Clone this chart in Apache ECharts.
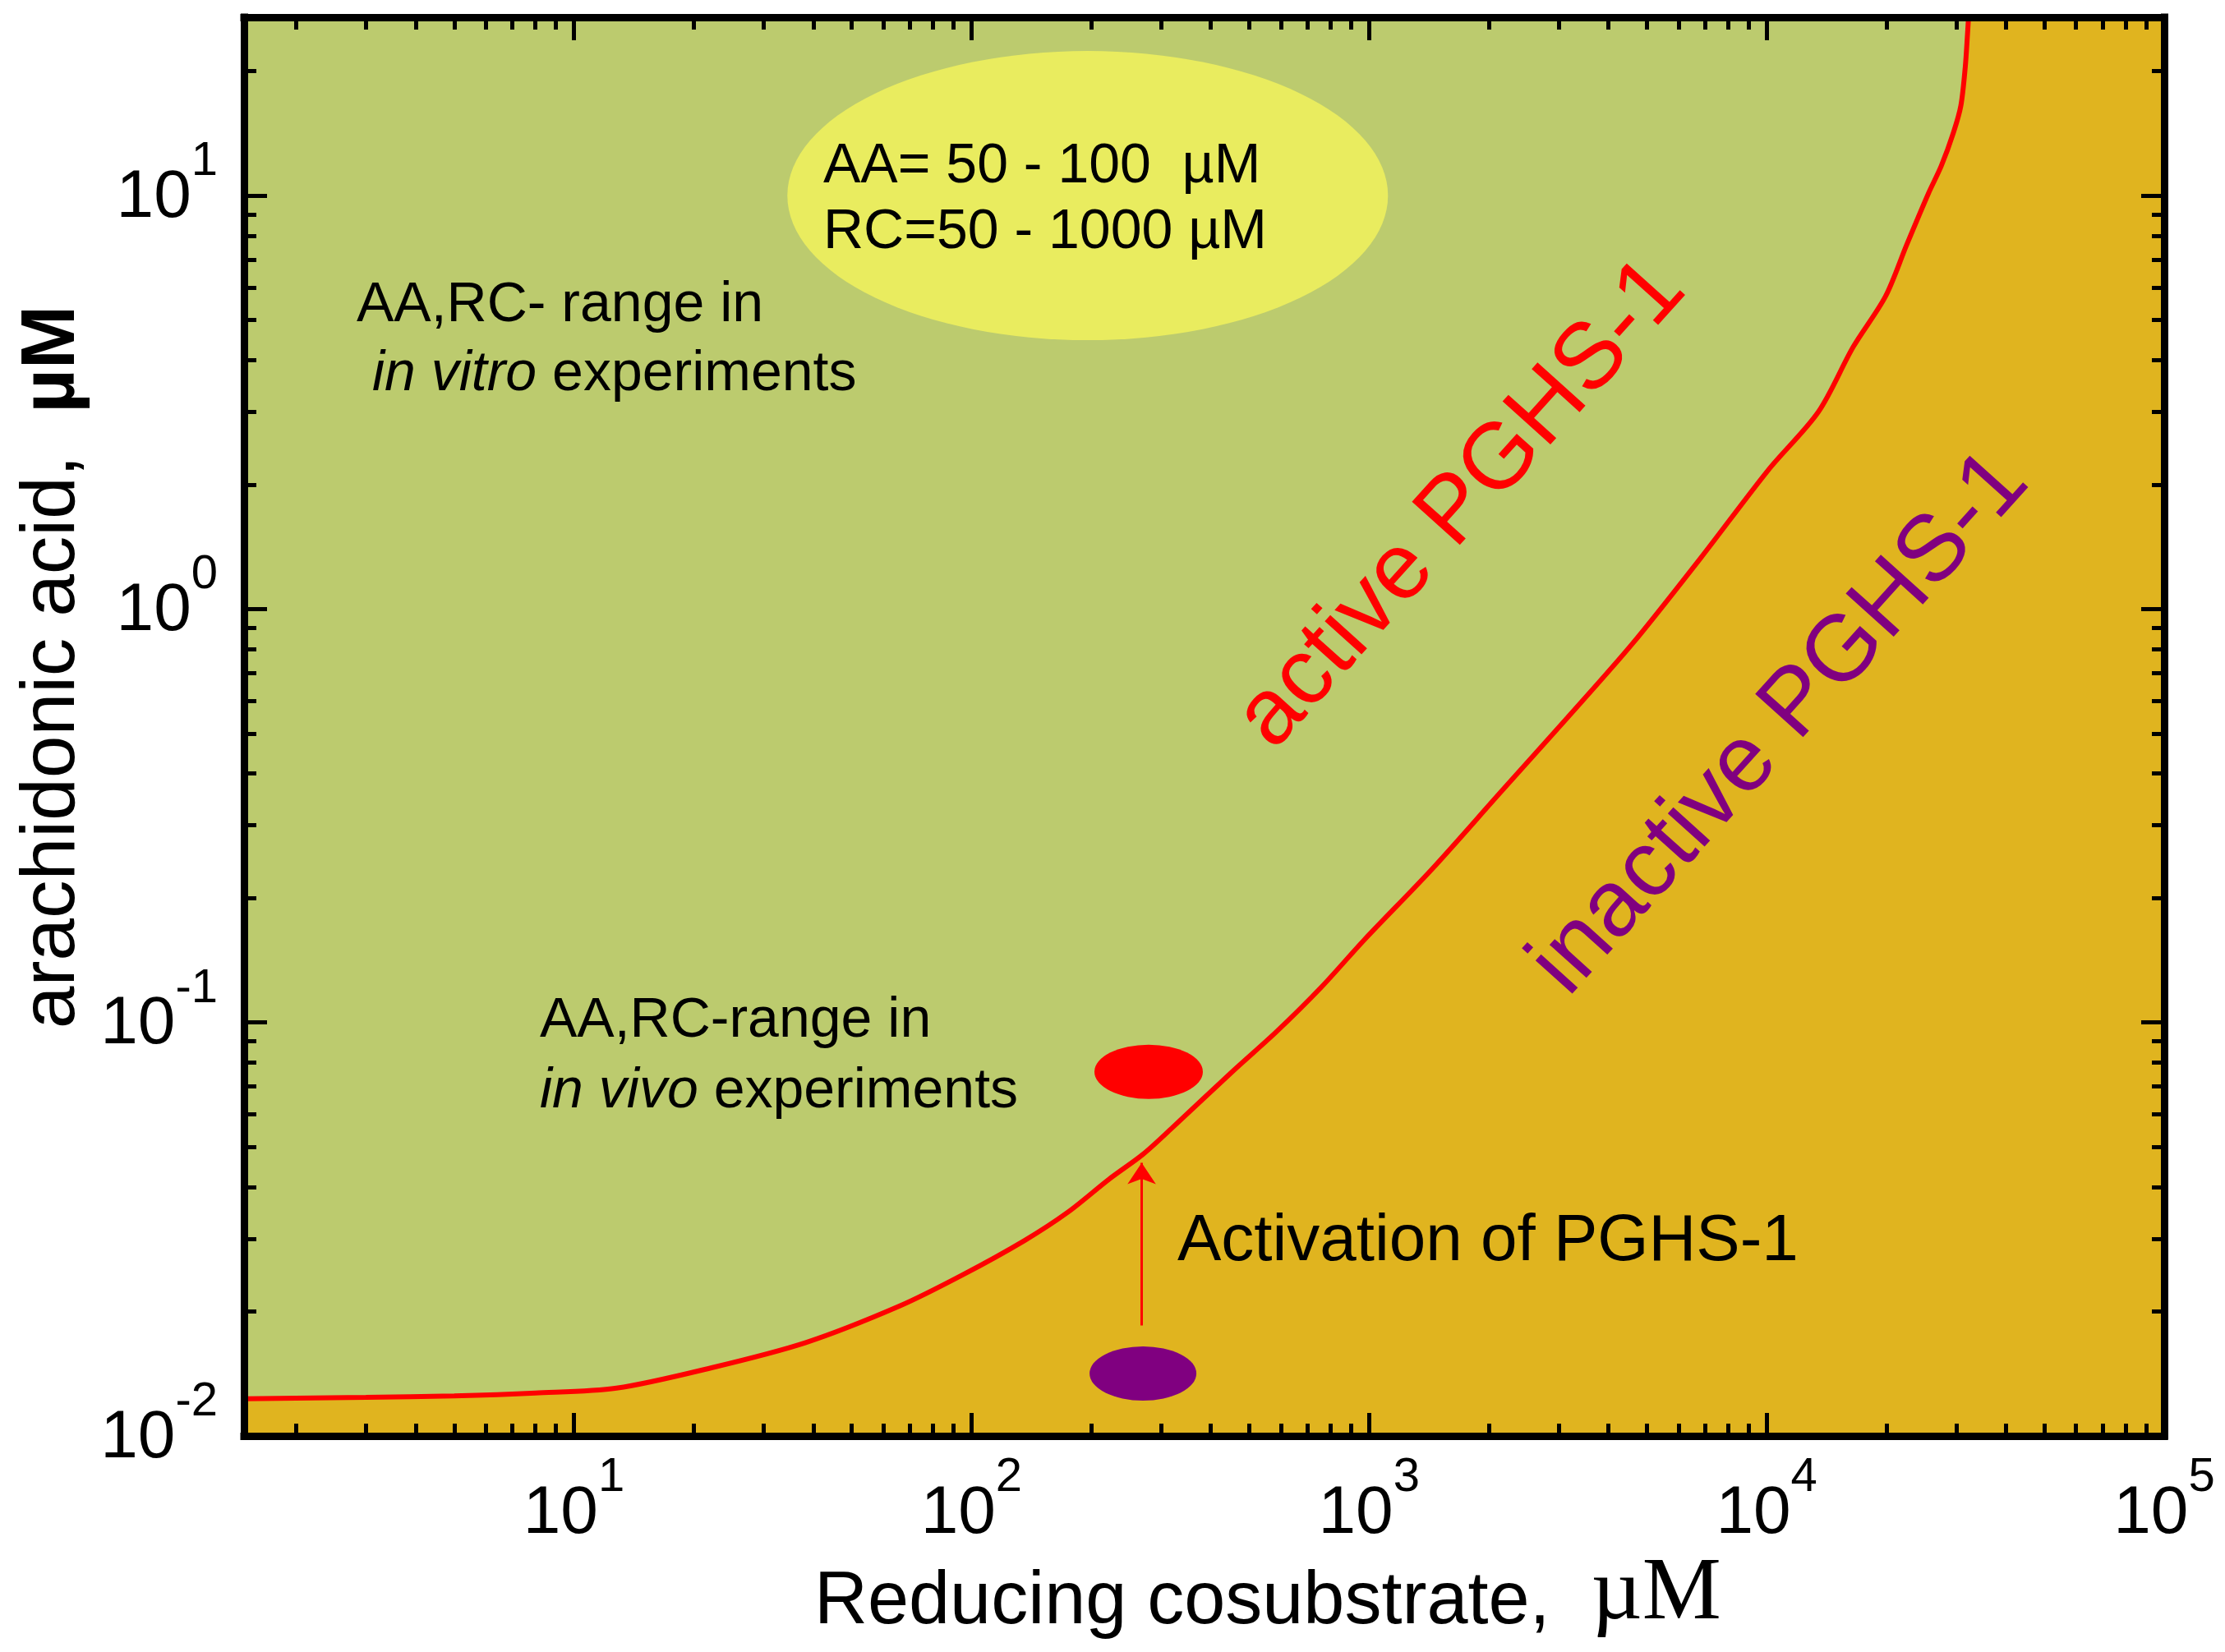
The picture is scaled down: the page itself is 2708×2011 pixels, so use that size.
<!DOCTYPE html>
<html lang="en">
<head>
<meta charset="UTF-8" />
<title>PGHS-1 activity map</title>
<script src="https://cdn.jsdelivr.net/npm/echarts@6.0.0/dist/echarts.min.js"></script>
<style>
    html, body { margin: 0; padding: 0; background: #fff; }
    #chart { width: 2708px; height: 2011px; }
</style>
</head>
<body>
<div id="chart"></div>
<script>
    // boundary between active and inactive PGHS-1
    const boundaryRC = [1.48, 3, 5, 8, 12.8, 22.2, 38.3, 65.8, 94.8, 136, 175, 222, 270, 319, 456, 585, 760, 970,
        1440, 2150, 3150, 4600, 6830, 10100, 13500, 16500, 19900, 22500, 25500, 27500, 29500, 30800, 31600, 32000, 32200];
    const boundaryAA = [0.0123, 0.0124, 0.0125, 0.0127, 0.01305, 0.01462, 0.01682, 0.0206, 0.0245, 0.0297, 0.0348,
        0.0418, 0.0480, 0.0555, 0.0765, 0.095, 0.122, 0.158, 0.235, 0.362, 0.545, 0.825, 1.33, 2.17, 3.0, 4.3,
        5.7, 7.6, 10.1, 11.8, 14.2, 16.5, 20.5, 24.5, 27];

    // marker centres [RC, AA]
    const inVitroRange = [[196, 10]];
    const inVivoActive = [[279, 0.076]];
    const inVivoInactive = [[270, 0.01416]];
    const activationArrow = [[268, 0.0185], [268, 0.0458]];

    const xRange = [1.48, 100000];
    const yRange = [0.01, 27];
    const xMajorTicks = [10, 100, 1000, 10000, 100000];
    const xMinorTicks = [2, 3, 4, 5, 6, 7, 8, 9, 20, 30, 40, 50, 60, 70, 80, 90,
        200, 300, 400, 500, 600, 700, 800, 900, 2000, 3000, 4000, 5000, 6000, 7000, 8000, 9000,
        20000, 30000, 40000, 50000, 60000, 70000, 80000, 90000];
    const yMajorTicks = [0.01, 0.1, 1, 10];
    const yMinorTicks = [0.02, 0.03, 0.04, 0.05, 0.06, 0.07, 0.08, 0.09, 0.2, 0.3, 0.4, 0.5, 0.6, 0.7, 0.8, 0.9,
        2, 3, 4, 5, 6, 7, 8, 9, 20];

    const SANS = "'Liberation Sans', Arial, sans-serif";
    const curve = boundaryRC.map((x, i) => [x, boundaryAA[i]]);
    // region right of / below the boundary, closed along the top edge
    const inactiveArea = curve.concat([[xRange[1], yRange[1]]]);

    function powLabel(v) {
        const e = Math.round(Math.log10(v));
        return '{b|10}{s|' + e + '}';
    }
    const powRich = {
        b: { fontFamily: SANS, fontSize: 82, lineHeight: 114, color: '#000', verticalAlign: 'bottom' },
        s: { fontFamily: SANS, fontSize: 58, lineHeight: 58, color: '#000', verticalAlign: 'top' }
    };

    function makeAxis(range, position, ticks, tickLen, labels, margin, showLine, pad) {
        return {
            type: 'log',
            logBase: 10,
            min: range[0],
            max: range[1],
            position: position,
            z: 10,
            axisLine: { show: showLine, onZero: false, lineStyle: { color: '#000', width: 9, cap: 'square' } },
            axisTick: { show: true, inside: true, length: tickLen, customValues: ticks, lineStyle: { color: '#000', width: 5 } },
            axisLabel: labels ? {
                show: true, customValues: labels, margin: margin, formatter: powLabel, rich: powRich,
                padding: pad || 0
            } : { show: false },
            splitLine: { show: false },
            minorTick: { show: false }
        };
    }

    const chart = echarts.init(document.getElementById('chart'));
    chart.setOption({
        animation: false,
        backgroundColor: '#ffffff',
        grid: {
            left: 297, top: 21, width: 2337, height: 1727,
            show: true, backgroundColor: '#BCCB6E', borderWidth: 0
        },
        xAxis: [
            makeAxis(xRange, 'bottom', xMajorTicks, 28, xMajorTicks, 22, true),
            makeAxis(xRange, 'bottom', xMinorTicks, 15, null, 0, false),
            makeAxis(xRange, 'top', xMajorTicks, 28, null, 0, true),
            makeAxis(xRange, 'top', xMinorTicks, 15, null, 0, false)
        ],
        yAxis: [
            makeAxis(yRange, 'left', yMajorTicks, 28, yMajorTicks, 32, true, [0, 0, 26, 0]),
            makeAxis(yRange, 'left', yMinorTicks, 15, null, 0, false),
            makeAxis(yRange, 'right', yMajorTicks, 28, null, 0, true),
            makeAxis(yRange, 'right', yMinorTicks, 15, null, 0, false)
        ],
        series: [
            {
                type: 'line', data: inactiveArea, symbol: 'none', smooth: 0.3,
                lineStyle: { width: 0 },
                areaStyle: { color: '#E0B41F', opacity: 1, origin: 'start' },
                z: 1, silent: true
            },
            {
                type: 'line', data: curve, symbol: 'none', smooth: 0.3,
                lineStyle: { color: '#FF0000', width: 6 },
                z: 3, silent: true
            },
            {
                type: 'scatter', data: inVitroRange, symbol: 'circle', symbolSize: [731, 352],
                itemStyle: { color: '#E9EC5F', opacity: 1 }, z: 2, silent: true
            },
            {
                type: 'scatter', data: inVivoActive, symbol: 'circle', symbolSize: [132, 66],
                itemStyle: { color: '#FF0000', opacity: 1 }, z: 4, silent: true
            },
            {
                type: 'scatter', data: inVivoInactive, symbol: 'circle', symbolSize: [130, 66],
                itemStyle: { color: '#800080', opacity: 1 }, z: 4, silent: true
            },
            {
                type: 'lines', coordinateSystem: 'cartesian2d',
                data: [{ coords: activationArrow }],
                symbol: ['none', 'arrow'], symbolSize: 26,
                lineStyle: { color: '#FF0000', width: 3, opacity: 1 },
                z: 5, silent: true
            }
        ],
        graphic: [
            {
                type: 'text', x: 434, y: 330, z: 20,
                style: {
                    text: '{n|AA,RC- range in}\n {i|in vitro} {n|experiments}',
                    font: '68px ' + SANS, fill: '#000', lineHeight: 84, verticalAlign: 'top',
                    rich: {
                        n: { fontSize: 68, fontFamily: SANS, lineHeight: 84 },
                        i: { fontSize: 68, fontFamily: SANS, fontStyle: 'italic', lineHeight: 84 }
                    }
                }
            },
            {
                type: 'text', x: 657, y: 1200, z: 20,
                style: {
                    text: '{n|AA,RC-range in}\n{i|in vivo} {n|experiments}',
                    font: '68px ' + SANS, fill: '#000', lineHeight: 86, verticalAlign: 'top',
                    rich: {
                        n: { fontSize: 68, fontFamily: SANS, lineHeight: 86 },
                        i: { fontSize: 68, fontFamily: SANS, fontStyle: 'italic', lineHeight: 86 }
                    }
                }
            },
            {
                type: 'text', x: 1002, y: 163, z: 20,
                style: {
                    text: 'AA= 50 - 100  \u00b5M\nRC=50 - 1000 \u00b5M',
                    font: '68px ' + SANS, fill: '#000', lineHeight: 80, verticalAlign: 'top'
                }
            },
            {
                type: 'text', x: 1433, y: 1512, z: 20,
                style: {
                    text: 'Activation of PGHS-1',
                    font: '80px ' + SANS, fill: '#000', verticalAlign: 'middle'
                }
            },
            {
                type: 'text', x: 1779, y: 614, z: 20, rotation: 48 * Math.PI / 180,
                style: {
                    text: 'active PGHS-1', font: '114px ' + SANS, fill: '#FF0000',
                    align: 'center', verticalAlign: 'middle'
                }
            },
            {
                type: 'text', x: 2167, y: 881, z: 20, rotation: 48 * Math.PI / 180,
                style: {
                    text: 'inactive PGHS-1', font: '114px ' + SANS, fill: '#800080',
                    align: 'center', verticalAlign: 'middle'
                }
            },
            {
                type: 'text', x: 64, y: 812, z: 20, rotation: Math.PI / 2,
                style: {
                    text: '{n|arachidonic acid,  }{b|\u00b5M}',
                    font: '93px ' + SANS, fill: '#000', align: 'center', verticalAlign: 'middle',
                    rich: {
                        n: { fontSize: 93, fontFamily: SANS },
                        b: { fontSize: 93, fontFamily: SANS, fontWeight: 'bold' }
                    }
                }
            },
            {
                type: 'text', x: 991, y: 1942, z: 20,
                style: {
                    text: '{n|Reducing cosubstrate,  }{m|\u00b5M}',
                    font: '90px ' + SANS, fill: '#000', verticalAlign: 'middle',
                    rich: {
                        n: { fontSize: 90, fontFamily: SANS, lineHeight: 90, verticalAlign: 'bottom' },
                        m: { fontSize: 108, fontFamily: "'Liberation Serif', 'Times New Roman', serif", lineHeight: 108, verticalAlign: 'bottom' }
                    }
                }
            }
        ]
    });
</script>
</body>
</html>
